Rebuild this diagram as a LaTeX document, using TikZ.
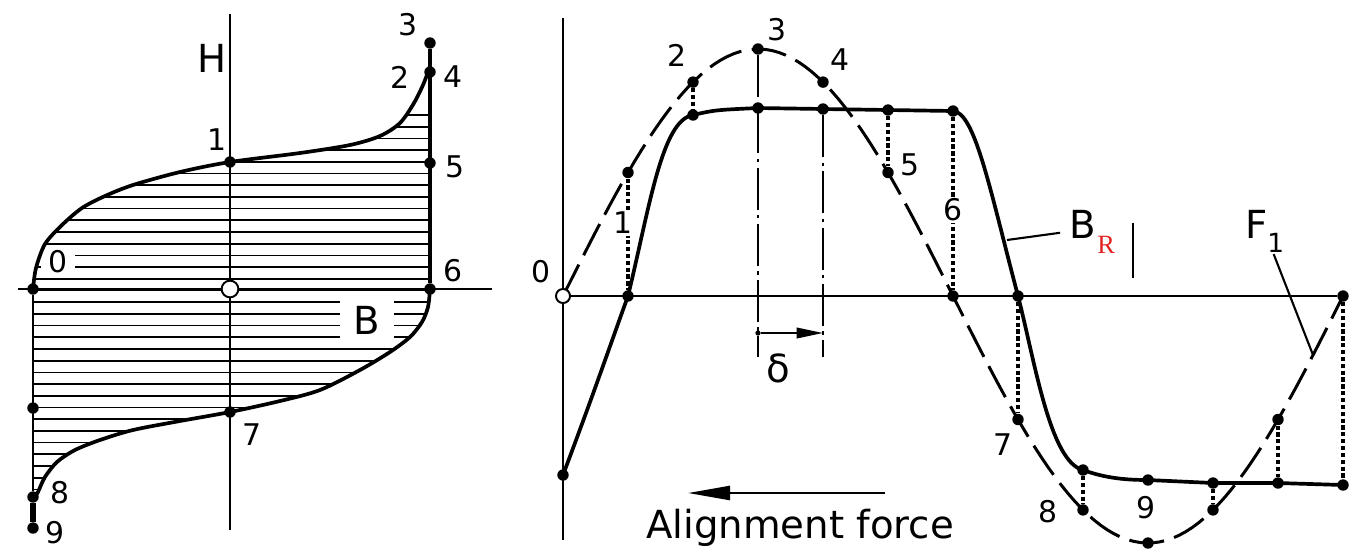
\documentclass[tikz,border=0pt]{standalone}
\usepackage{fontspec}
\setmainfont{DejaVu Sans}
\newfontfamily\rfont{Liberation Serif}
\usepackage{tikz}
\usetikzlibrary{arrows.meta}
\definecolor{subred}{RGB}{225,35,35}

\begin{document}
\begin{tikzpicture}[x=0.02cm, y=-0.02cm,
  dot/.style={circle, fill=black, inner sep=0pt, minimum size=6.5pt},
  sdot/.style={circle, fill=black, inner sep=0pt, minimum size=3pt},
  hole/.style={circle, draw, fill=white, line width=1.1pt, inner sep=0pt, minimum size=9.5pt},
  num/.style={font=\fontsize{17}{17}\selectfont, inner sep=1pt},
  sym/.style={font=\fontsize{22}{22}\selectfont, inner sep=1pt},
  axis/.style={line width=1.2pt},
  curve/.style={line width=2.1pt},
  hatch/.style={line width=1pt},
  fline/.style={line width=1.7pt, dash pattern=on 20pt off 6pt},
  proj/.style={line width=1.9pt, dash pattern=on 2.4pt off 1.5pt},
  chain/.style={line width=1.2pt, dash pattern=on 24pt off 3pt on 2pt off 3pt},
  lead/.style={line width=1.2pt}
]
  \useasboundingbox (0,0) rectangle (1361,555);

  % left: hysteresis of H against B
  \coordinate (ht) at (230,14);
  \coordinate (hb) at (230,530);
  \coordinate (bl) at (18,289);
  \coordinate (br) at (492,289);

  \begin{scope}
    \clip plot[smooth] coordinates {(33,289) (36,268) (45,244) (62,225) (82,208) (105,196) (133,185) (180,172) (230,162) (300,153) (350,145) (380,136) (400,123) (414,103) (423,85) (428,72)}
      -- (430,72) -- (430,289)
      -- plot[smooth] coordinates {(430,289) (428,307) (422,322) (410,337) (390,352) (360,370) (320,390) (280,401) (230,412) (180,421) (133,430) (100,440) (75,450) (57,462) (45,477) (38,492) (35,497)}
      -- (33,497) -- cycle;
    \foreach \k in {0,...,32}
      \draw[hatch] (20,115+11.7*\k) -- (440,115+11.7*\k);
  \end{scope}

  \node[num, fill=white, inner xsep=4pt] (t0) at (58,262) {0};
  \node[sym, fill=white, inner xsep=8pt, inner ysep=3pt] (tb) at (367,320) {B};

  \draw[axis] (ht) -- (hb);
  \draw[axis] (bl) -- (br);
  \draw[curve] plot[smooth] coordinates {(33,289) (36,268) (45,244) (62,225) (82,208) (105,196) (133,185) (180,172) (230,162) (300,153) (350,145) (380,136) (400,123) (414,103) (423,85) (428,72)};
  \draw[curve] plot[smooth] coordinates {(430,289) (428,307) (422,322) (410,337) (390,352) (360,370) (320,390) (280,401) (230,412) (180,421) (133,430) (100,440) (75,450) (57,462) (45,477) (38,492) (35,497)};

  \node[dot] (l0) at (33,289) {};
  \node[dot] (l1) at (230,162) {};
  \node[dot] (l2) at (430,72) {};
  \node[dot] (l3) at (430,43) {};
  \node[dot] (l5) at (430,163) {};
  \node[dot] (l6) at (430,289) {};
  \node[dot] (la) at (33,408) {};
  \node[dot] (l7) at (230,412) {};
  \node[dot] (l8) at (33,497) {};
  \node[dot] (l9) at (33,528) {};
  \node[hole] (lo) at (230,289) {};

  \draw[curve] (l3) -- (l6);
  \draw[line width=1.6pt] (l0) -- (l8);
  \draw[line width=3pt] (l8) -- (l9);

  \node[sym] (tH) at (212,58) {H};
  \node[num] (t1) at (217,140) {1};
  \node[num] (t3) at (408,25) {3};
  \node[num] (t2) at (400,77) {2};
  \node[num] (t4) at (453,77) {4};
  \node[num] (t5) at (455,167) {5};
  \node[num] (t6) at (453,271) {6};
  \node[num] (t7) at (252,435) {7};
  \node[num] (t8) at (60,493) {8};
  \node[num] (t9) at (55,533) {9};

  % right: F1 and B_R against position
  \coordinate (yt) at (563,18);
  \coordinate (yb) at (563,540);
  \coordinate (o) at (563,296);

  \foreach \k in {1,...,12}
    \node[dot] (f\k) at ({563+65*\k},{296-247*sin(30*\k)}) {};

  \node[dot] (b0) at (563,475) {};
  \node[dot] (b1) at (628,296) {};
  \node[dot] (b2) at (693,115) {};
  \node[dot] (b3) at (758,108) {};
  \node[dot] (b4) at (823,109) {};
  \node[dot] (b5) at (888,110) {};
  \node[dot] (b6) at (953,111) {};
  \node[dot] (b7) at (1018,296) {};
  \node[dot] (b8) at (1083,470) {};
  \node[dot] (b9) at (1148,480) {};
  \node[dot] (b10) at (1213,483) {};
  \node[dot] (b11) at (1278,483) {};
  \node[dot] (b12) at (1343,485) {};

  \draw[axis] (yt) -- (yb);
  \draw[axis] (o) -- (f12);

  \draw[fline] plot[domain=563:1343, samples=120] (\x, {296-247*sin((\x-563)/390*180)});
  \draw[curve] (b0.center) .. controls (595,390) and (612,340) .. (b1.center)
    .. controls (650,205) and (662,120) .. (b2.center)
    .. controls (715,110) .. (b3.center) -- (b4.center) -- (b5.center) -- (b6.center)
    .. controls (975,112) and (990,190) .. (b7.center)
    .. controls (1035,362) and (1050,462) .. (b8.center)
    .. controls (1105,478) and (1125,480) .. (b9.center)
    -- (b10.center) -- (b11.center) -- (b12.center);

  \draw[proj] (f1) -- (b1);
  \draw[proj] (f2) -- (b2);
  \draw[proj] (b5) -- (f5);
  \draw[proj] (b6) -- (f6);
  \draw[proj] (b7) -- (f7);
  \draw[proj] (b8) -- (f8);
  \draw[proj] (b10) -- (f10);
  \draw[proj] (f11) -- (b11);
  \draw[proj] (f12) -- (b12);

  \coordinate (c3) at (758,357);
  \coordinate (c4) at (823,357);
  \draw[chain] (f3) -- (c3);
  \draw[chain] (b4) -- (c4);

  \node[sdot] (ds) at (758,333) {};
  \coordinate (de) at (823,333);
  \draw[lead, -{Triangle[length=15pt, width=6pt]}] (ds) -- (de);
  \node[sym] (td) at (778,368) {δ};

  \node[hole, minimum size=8pt] (f0) at (o) {};

  \node[num] (r0) at (541,272) {0};
  \node[num, fill=white] (r1) at (623,223) {1};
  \node[num] (r2) at (677,55) {2};
  \node[num] (r3) at (777,30) {3};
  \node[num] (r4) at (840,60) {4};
  \node[num] (r5) at (910,165) {5};
  \node[num, fill=white] (r6) at (953,210) {6};
  \node[num] (r7) at (1003,445) {7};
  \node[num] (r8) at (1048,512) {8};
  \node[num] (r9) at (1146,508) {9};

  \node[sym, anchor=base west] (tbr) at (1067,238) {B\hspace{1pt}\raisebox{-9pt}{\rfont\fontsize{15}{15}\selectfont\color{subred}R}};
  \coordinate (brp) at (1007,240);
  \draw[lead, shorten >=4pt] (brp) -- (tbr.west);
  \coordinate (tk1) at (1133,223);
  \coordinate (tk2) at (1133,278);
  \draw[line width=0.8pt] (tk1) -- (tk2);

  \node[sym, anchor=base west] (tf1) at (1243,238) {F\raisebox{-8pt}{\fontsize{15}{15}\selectfont 1}};
  \coordinate (fp) at (1313,355);
  \draw[lead] (tf1) -- (fp);

  \coordinate (aa) at (885,493);
  \coordinate (ab) at (688,493);
  \draw[lead, line width=1.4pt, -{Triangle[length=24pt, width=8pt]}] (aa) -- (ab);
  \node[sym] (tal) at (800,528) {Alignment force};
\end{tikzpicture}
\end{document}
